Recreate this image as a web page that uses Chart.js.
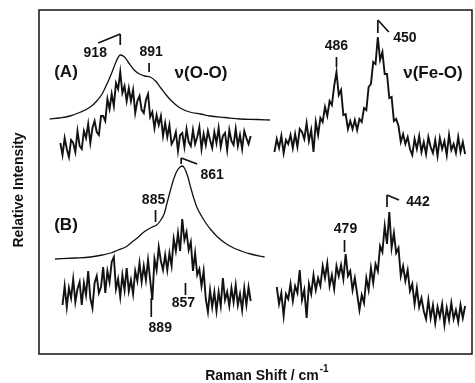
<!DOCTYPE html>
<html>
<head>
<meta charset="utf-8">
<script src="https://cdn.jsdelivr.net/npm/chart.js@4"></script>
<style>
  html, body { margin: 0; padding: 0; background: #fff; }
  #wrap { position: relative; width: 475px; height: 383px; }
</style>
</head>
<body>
<div id="wrap"><canvas id="ramanChart" width="475" height="383"></canvas></div>
<script>
const step = -2;
const ooStartA = 974, ooStartB = 972;   // nu(O-O) region (left half)
const feStartA = 540, feStartB = 538;   // nu(Fe-O) region (right half)

// (A) measured spectra
const ooNoisyA = [17, 5, 22, 11, 3, 20, 17, 8, 29, 14,
  11, 29, 22, 36, 17, 32, 39, 28, 25, 44,
  44, 39, 61, 51, 66, 54, 77, 71, 88, 67,
  74, 59, 72, 59, 70, 47, 59, 64, 50, 47,
  60, 66, 43, 48, 32, 45, 35, 44, 24, 37,
  23, 35, 16, 20, 28, 9, 25, 27, 13, 31,
  18, 14, 30, 16, 23, 33, 11, 26, 15, 29,
  20, 12, 28, 17, 32, 13, 24, 27, 10, 30,
  19, 15, 31, 14, 25, 11, 29, 22, 16, 24];
const feNoisyA = [8, 21, 12, 24, 7, 20, 16, 25, 12, 26,
  13, 31, 28, 21, 37, 19, 30, 8, 38, 25,
  42, 38, 53, 44, 59, 55, 74, 88, 65, 70,
  45, 46, 31, 39, 31, 40, 30, 41, 38, 52,
  50, 73, 76, 98, 96, 123, 100, 108, 86, 86,
  62, 63, 39, 41, 34, 18, 26, 16, 23, 11,
  5, 21, 11, 24, 8, 18, 6, 23, 13, 7,
  20, 4, 22, 11, 19, 5, 25, 10, 16, 7,
  23, 8, 18, 6];

// (A) fitted envelope
const ooFitAx = [984, 975, 965, 955, 946, 940, 935, 930, 926, 922, 918, 914, 910, 905, 900,
  895, 890, 885, 880, 875, 870, 862, 853, 843, 834, 820, 806, 790, 778];
const ooFitAy = [1, 2, 4, 8, 13, 19, 26, 37, 47, 58, 65, 63, 57, 50, 46,
  44, 43, 39, 32, 25, 19, 12, 8, 6, 4, 2.5, 1, 0.5, 0];

// (B) measured spectra
const ooNoisyB = [25, 44, 23, 42, 32, 51, 28, 41, 48, 25,
  47, 35, 59, 32, 22, 47, 54, 37, 43, 63,
  37, 59, 48, 68, 73, 41, 51, 33, 55, 40,
  62, 39, 50, 36, 59, 49, 67, 48, 64, 50,
  70, 50, 30, 71, 60, 83, 69, 60, 75, 60,
  77, 64, 91, 79, 97, 79, 111, 90, 98, 80,
  88, 59, 77, 55, 61, 44, 59, 31, 18, 40,
  23, 38, 19, 38, 24, 52, 30, 38, 24, 42,
  28, 45, 25, 36, 20, 42, 25, 43, 29];
const feNoisyB = [43, 26, 37, 14, 36, 31, 46, 29, 44, 37,
  60, 30, 40, 12, 46, 36, 55, 40, 52, 44,
  64, 52, 67, 44, 55, 41, 64, 54, 65, 51,
  76, 54, 59, 40, 52, 36, 20, 35, 27, 52,
  40, 62, 47, 66, 59, 84, 78, 104, 86, 118,
  82, 97, 77, 82, 54, 64, 49, 60, 39, 46,
  26, 42, 23, 32, 19, 11, 30, 12, 25, 7,
  23, 13, 26, 5, 22, 10, 27, 11, 20, 8,
  25, 12, 24];

// (B) fitted envelope
const ooFitBx = [979, 960, 946, 935, 927, 920, 913, 907, 902, 897, 893, 888, 884, 880, 877,
  874, 871, 868, 865, 862, 860, 858, 855, 852, 849, 846, 842, 838, 833, 827,
  820, 812, 805, 796, 783];
const ooFitBy = [1, 2, 3, 5, 7, 10, 13, 18, 22, 27, 30, 33, 35, 40, 46,
  58, 70, 81, 89, 93, 94, 92, 84, 72, 61, 52, 44, 37, 30, 23,
  17, 12, 9, 6, 3];

// vertical stacking of the traces (y units)
const offFitA = 234, offNoisyA = 194, offFitB = 94, offNoisyB = 24;

function sampled(start, vals, off) {
  return vals.map((v, i) => ({ x: start + i * step, y: v + off }));
}
function paired(xs, ys, off) {
  return xs.map((x, i) => ({ x: x, y: ys[i] + off }));
}

const ink = "#121212";
const FONT = "'Liberation Sans', Arial, Helvetica, sans-serif";

const noisy = { borderColor: ink, borderWidth: 1.9, pointRadius: 0, tension: 0, fill: false };
const smooth = { borderColor: ink, borderWidth: 1.3, pointRadius: 0, cubicInterpolationMode: "monotone", fill: false };

const peakLabels = [
  { axis: "xL", wn: 918, text: "918", tx: -25, ty: 53, y0: 34, y1: 45, hook: [-22, 9] },
  { axis: "xL", wn: 891, text: "891", tx: 2, ty: 52, y0: 63, y1: 72 },
  { axis: "xR", wn: 486, text: "486", tx: 0, ty: 46, y0: 57, y1: 67 },
  { axis: "xR", wn: 450, text: "450", tx: 27, ty: 38, y0: 20, y1: 33, hook: [11, 12] },
  { axis: "xL", wn: 885, text: "885", tx: -2, ty: 200, y0: 210, y1: 222 },
  { axis: "xL", wn: 861, text: "861", tx: 31, ty: 175, y0: 158, y1: 164, hook: [16, 6] },
  { axis: "xL", wn: 889, text: "889", tx: 9, ty: 328, y0: 298, y1: 317 },
  { axis: "xL", wn: 857, text: "857", tx: -2, ty: 303, y0: 283, y1: 295 },
  { axis: "xR", wn: 479, text: "479", tx: 1, ty: 229, y0: 240, y1: 252 },
  { axis: "xR", wn: 442, text: "442", tx: 31, ty: 202, y0: 195, y1: 207, hook: [12, 5] }
];

const decorations = {
  id: "decorations",
  afterDraw(chart) {
    const ctx = chart.ctx;
    const a = chart.chartArea;
    ctx.save();
    ctx.strokeStyle = ink;
    ctx.fillStyle = ink;

    // frame
    ctx.lineWidth = 1.5;
    ctx.strokeRect(a.left, a.top, a.right - a.left, a.bottom - a.top);

    // peak marks
    ctx.lineWidth = 1.7;
    ctx.font = "bold 14px " + FONT;
    ctx.textAlign = "center";
    ctx.textBaseline = "middle";
    peakLabels.forEach(p => {
      const px = chart.scales[p.axis].getPixelForValue(p.wn);
      ctx.beginPath();
      ctx.moveTo(px, p.y0);
      ctx.lineTo(px, p.y1);
      if (p.hook) {
        ctx.moveTo(px, p.y0);
        ctx.lineTo(px + p.hook[0], p.y0 + p.hook[1]);
      }
      ctx.stroke();
      ctx.fillText(p.text, px + p.tx, p.ty);
    });

    // panel labels
    ctx.font = "bold 17px " + FONT;
    ctx.fillText("(A)", 66, 72);
    ctx.fillText("(B)", 66, 225);
    ctx.fillText("\u03bd(O-O)", 201, 73);
    ctx.fillText("\u03bd(Fe-O)", 433, 73);

    // axis titles
    ctx.font = "bold 14px " + FONT;
    ctx.save();
    ctx.translate(19, 190);
    ctx.rotate(-Math.PI / 2);
    ctx.fillText("Relative Intensity", 0, 0);
    ctx.restore();

    const main = "Raman Shift / cm";
    const w = ctx.measureText(main).width;
    ctx.textAlign = "left";
    ctx.fillText(main, 262 - w / 2, 376);
    ctx.font = "bold 10px " + FONT;
    ctx.fillText("-1", 262 + w / 2 + 1, 369);
    ctx.restore();
  }
};

new Chart(document.getElementById("ramanChart"), {
  type: "line",
  data: {
    datasets: [
      Object.assign({ data: paired(ooFitAx, ooFitAy, offFitA), xAxisID: "xL" }, smooth),
      Object.assign({ data: sampled(ooStartA, ooNoisyA, offNoisyA), xAxisID: "xL" }, noisy),
      Object.assign({ data: sampled(feStartA, feNoisyA, offNoisyA), xAxisID: "xR" }, noisy),
      Object.assign({ data: paired(ooFitBx, ooFitBy, offFitB), xAxisID: "xL" }, smooth),
      Object.assign({ data: sampled(ooStartB, ooNoisyB, offNoisyB), xAxisID: "xL" }, noisy),
      Object.assign({ data: sampled(feStartB, feNoisyB, offNoisyB), xAxisID: "xR" }, noisy)
    ]
  },
  options: {
    responsive: false,
    animation: false,
    devicePixelRatio: 1,
    layout: { padding: { left: 39, top: 10, right: 3, bottom: 29 } },
    plugins: { legend: { display: false }, tooltip: { enabled: false } },
    scales: {
      xL: { type: "linear", position: "bottom", reverse: true, min: 589, max: 994, display: false },
      xR: { type: "linear", position: "bottom", reverse: true, min: 368, max: 745, display: false },
      y: { type: "linear", min: 0, max: 344, display: false }
    }
  },
  plugins: [decorations]
});
</script>
</body>
</html>
